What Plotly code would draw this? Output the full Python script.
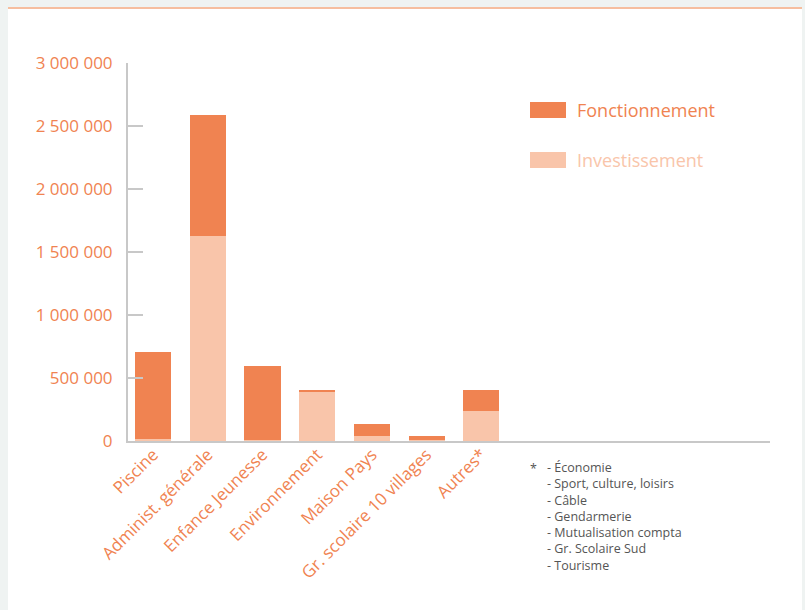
import plotly.graph_objects as go

categories = ["Piscine", "Administ. générale", "Enfance Jeunesse", "Environnement",
              "Maison Pays", "Gr. scolaire 10 villages", "Autres*"]
investissement = [15000, 1627000, 5000, 390000, 37000, 5000, 240000]
fonctionnement = [690000, 960000, 590000, 8000, 100000, 35000, 165000]
y_ticks = [0, 500000, 1000000, 1500000, 2000000, 2500000, 3000000]
y_tick_labels = ["0", "500 000", "1 000 000", "1 500 000", "2 000 000", "2 500 000", "3 000 000"]
series_names = ["Fonctionnement", "Investissement"]
footnote_items = ["- Économie", "- Sport, culture, loisirs", "- Câble", "- Gendarmerie",
                  "- Mutualisation compta", "- Gr. Scolaire Sud", "- Tourisme"]

DARK = "#F08351"
LIGHT = "#F9C5AA"
AXIS = "#C8C8C8"
NOTE = "#555555"
FONT = "Open Sans"

W, H = 805, 610
L, R, T, B = 128, 35, 63, 169
pw, ph = W - L - R, H - T - B

def px_x(x):
    return (x - L) / pw

def px_y(y):
    return (H - B - y) / ph

fig = go.Figure()
fig.add_trace(go.Bar(x=categories, y=investissement, name=series_names[1],
                     marker=dict(color=LIGHT, line=dict(width=0)), width=0.66,
                     showlegend=False))
fig.add_trace(go.Bar(x=categories, y=fonctionnement, name=series_names[0],
                     marker=dict(color=DARK, line=dict(width=0)), width=0.66,
                     showlegend=False))

shapes = [
    dict(type="rect", xref="paper", yref="paper", layer="below",
         x0=px_x(8), x1=px_x(802), y0=px_y(612), y1=px_y(7),
         fillcolor="white", line=dict(width=0)),
    dict(type="rect", xref="paper", yref="paper", layer="below",
         x0=px_x(8), x1=px_x(802), y0=px_y(9), y1=px_y(7),
         fillcolor="#F6BE9F", line=dict(width=0)),
    dict(type="rect", xref="paper", yref="paper",
         x0=px_x(530), x1=px_x(566), y0=px_y(118), y1=px_y(102),
         fillcolor=DARK, line=dict(width=0)),
    dict(type="rect", xref="paper", yref="paper",
         x0=px_x(530), x1=px_x(566), y0=px_y(168), y1=px_y(152),
         fillcolor=LIGHT, line=dict(width=0)),
]

NOTE_SIZE = 12.5
line_h = 1.3 * NOTE_SIZE
first_center = 468
block_mid = first_center + (len(footnote_items) - 1) * line_h / 2

annotations = [
    dict(xref="paper", yref="paper", x=px_x(575), y=px_y(110), xanchor="left", yanchor="middle",
         text=series_names[0], showarrow=False, font=dict(family=FONT, size=18, color=DARK)),
    dict(xref="paper", yref="paper", x=px_x(575), y=px_y(160), xanchor="left", yanchor="middle",
         text=series_names[1], showarrow=False, font=dict(family=FONT, size=18, color=LIGHT)),
    dict(xref="paper", yref="paper", x=px_x(528), y=px_y(first_center), xanchor="left",
         yanchor="middle", text="*", showarrow=False,
         font=dict(family=FONT, size=NOTE_SIZE, color=NOTE)),
    dict(xref="paper", yref="paper", x=px_x(545), y=px_y(block_mid), xanchor="left",
         yanchor="middle", text="<br>".join(footnote_items), align="left", showarrow=False,
         font=dict(family=FONT, size=NOTE_SIZE, color=NOTE)),
]

fig.update_layout(
    width=W, height=H,
    margin=dict(l=L, r=R, t=T, b=B, pad=0),
    paper_bgcolor="#EFF3F2",
    plot_bgcolor="rgba(0,0,0,0)",
    barmode="stack",
    shapes=shapes,
    annotations=annotations,
    font=dict(family=FONT, color=DARK),
    xaxis=dict(type="category", range=[-0.46, 11.28], showgrid=False, zeroline=False,
               showline=True, linecolor=AXIS, linewidth=2, ticks="",
               tickangle=-45, ticklabelstandoff=-5,
               tickfont=dict(family=FONT, size=17, color=DARK)),
    yaxis=dict(range=[0, 3000000], tickvals=y_ticks, ticktext=y_tick_labels,
               showgrid=False, zeroline=False, showline=True, linecolor=AXIS, linewidth=2,
               ticks="inside", ticklen=15, tickwidth=2, tickcolor=AXIS,
               ticklabelstandoff=10,
               tickfont=dict(family=FONT, size=17, color=DARK)),
)

fig.write_html("out.html", post_script="document.body.style.margin='0';",
               config={"displayModeBar": False})
